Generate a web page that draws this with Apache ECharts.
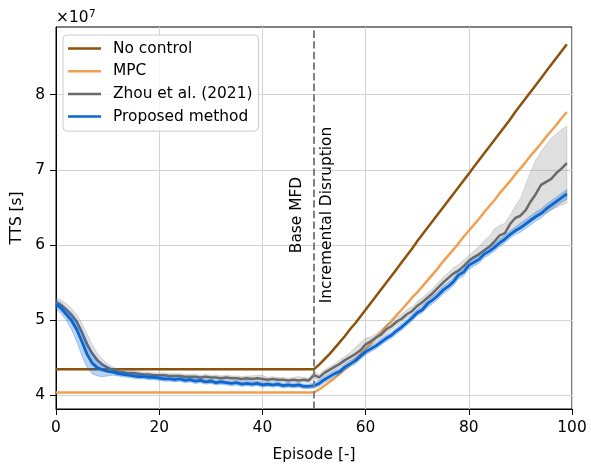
<!DOCTYPE html>
<html><head><meta charset="utf-8">
<script src="https://cdn.jsdelivr.net/npm/echarts@6/dist/echarts.min.js"></script>
<style>html,body{margin:0;padding:0;background:#fff}#c{width:591px;height:469px}</style>
</head><body><div id="c"></div>
<script>
// Values are in units of 1e7 seconds (axis shows "×10^7")
const EPISODES = Array.from({length: 100}, (_, i) => i);
const X_TICK_STEP = 20;
const Y_TICKS = [4, 5, 6, 7, 8];
const DISRUPTION_EPISODE = 50;
const SERIES_NAMES = ['No control', 'MPC', 'Zhou et al. (2021)', 'Proposed method'];

const NO_CONTROL = [
  4.35,4.35,4.35,4.35,4.35,4.35,4.35,4.35,4.35,4.35,
  4.35,4.35,4.35,4.35,4.35,4.35,4.35,4.35,4.35,4.35,
  4.35,4.35,4.35,4.35,4.35,4.35,4.35,4.35,4.35,4.35,
  4.35,4.35,4.35,4.35,4.35,4.35,4.35,4.35,4.35,4.35,
  4.35,4.35,4.35,4.35,4.35,4.35,4.35,4.35,4.35,4.35,
  4.35,4.41,4.48,4.55,4.63,4.71,4.79,4.88,4.96,5.05,
  5.14,5.23,5.32,5.41,5.50,5.59,5.68,5.77,5.86,5.95,
  6.05,6.14,6.23,6.32,6.41,6.50,6.59,6.68,6.77,6.86,
  6.95,7.04,7.13,7.22,7.31,7.40,7.49,7.58,7.67,7.77,
  7.86,7.95,8.04,8.13,8.22,8.31,8.40,8.49,8.58,8.67
];
const MPC = [
  4.04,4.04,4.04,4.04,4.04,4.04,4.04,4.04,4.04,4.04,
  4.04,4.04,4.04,4.04,4.04,4.04,4.04,4.04,4.04,4.04,
  4.04,4.04,4.04,4.04,4.04,4.04,4.04,4.04,4.04,4.04,
  4.04,4.04,4.04,4.04,4.04,4.04,4.04,4.04,4.04,4.04,
  4.04,4.04,4.04,4.04,4.04,4.04,4.04,4.04,4.04,4.04,
  4.04,4.08,4.13,4.18,4.23,4.29,4.35,4.41,4.48,4.55,
  4.62,4.69,4.77,4.84,4.92,4.99,5.07,5.14,5.22,5.30,
  5.37,5.45,5.53,5.61,5.69,5.78,5.86,5.94,6.02,6.11,
  6.19,6.27,6.35,6.44,6.52,6.60,6.69,6.77,6.85,6.94,
  7.02,7.10,7.19,7.27,7.35,7.44,7.52,7.60,7.69,7.77
];
const ZHOU_MEAN = [
  5.24,5.20,5.14,5.07,4.98,4.84,4.68,4.56,4.47,4.41,
  4.37,4.34,4.32,4.31,4.30,4.30,4.29,4.28,4.28,4.27,
  4.27,4.27,4.26,4.26,4.26,4.25,4.25,4.25,4.24,4.25,
  4.24,4.24,4.23,4.24,4.23,4.23,4.22,4.23,4.22,4.23,
  4.22,4.21,4.22,4.21,4.21,4.20,4.21,4.20,4.21,4.20,
  4.27,4.24,4.30,4.34,4.38,4.42,4.47,4.51,4.55,4.60,
  4.68,4.72,4.77,4.81,4.88,4.92,4.98,5.02,5.08,5.12,
  5.19,5.24,5.30,5.36,5.43,5.50,5.56,5.62,5.66,5.72,
  5.79,5.84,5.88,5.93,5.98,6.05,6.13,6.16,6.28,6.36,
  6.39,6.46,6.58,6.68,6.80,6.84,6.88,6.96,7.02,7.09
];
const ZHOU_LOWER = [
  5.18,5.13,5.05,4.96,4.85,4.70,4.56,4.45,4.39,4.35,
  4.33,4.31,4.29,4.28,4.27,4.27,4.26,4.25,4.25,4.24,
  4.24,4.24,4.23,4.23,4.23,4.22,4.22,4.22,4.21,4.22,
  4.21,4.21,4.20,4.21,4.20,4.20,4.19,4.20,4.19,4.19,
  4.18,4.18,4.19,4.18,4.18,4.17,4.18,4.17,4.18,4.17,
  4.22,4.20,4.26,4.30,4.34,4.38,4.43,4.46,4.50,4.55,
  4.62,4.67,4.72,4.76,4.82,4.87,4.93,4.97,5.03,5.07,
  5.14,5.19,5.25,5.31,5.37,5.44,5.50,5.56,5.60,5.66,
  5.74,5.79,5.82,5.87,5.91,5.96,6.02,6.05,6.12,6.19,
  6.22,6.27,6.31,6.36,6.40,6.43,6.47,6.50,6.53,6.56
];
const ZHOU_UPPER = [
  5.30,5.27,5.22,5.16,5.08,4.96,4.82,4.68,4.56,4.48,
  4.42,4.38,4.35,4.34,4.33,4.33,4.32,4.31,4.31,4.30,
  4.30,4.30,4.29,4.29,4.29,4.28,4.28,4.28,4.27,4.28,
  4.27,4.27,4.26,4.27,4.26,4.26,4.25,4.26,4.26,4.27,
  4.27,4.24,4.25,4.24,4.24,4.23,4.24,4.25,4.24,4.23,
  4.32,4.28,4.34,4.38,4.42,4.47,4.52,4.57,4.64,4.70,
  4.76,4.78,4.82,4.87,4.94,4.98,5.04,5.08,5.14,5.18,
  5.25,5.30,5.36,5.42,5.50,5.57,5.63,5.70,5.74,5.80,
  5.86,5.92,5.98,6.06,6.12,6.22,6.26,6.29,6.40,6.52,
  6.62,6.80,6.98,7.13,7.24,7.34,7.42,7.48,7.54,7.58
];
const PROPOSED_MEAN = [
  5.21,5.16,5.08,5.00,4.88,4.72,4.55,4.43,4.37,4.34,
  4.32,4.31,4.29,4.28,4.27,4.26,4.25,4.25,4.24,4.24,
  4.23,4.22,4.22,4.21,4.22,4.20,4.21,4.19,4.20,4.18,
  4.19,4.17,4.18,4.17,4.16,4.17,4.15,4.16,4.15,4.16,
  4.14,4.15,4.14,4.15,4.13,4.14,4.13,4.14,4.12,4.12,
  4.13,4.16,4.21,4.25,4.29,4.32,4.38,4.42,4.46,4.52,
  4.58,4.62,4.66,4.71,4.76,4.80,4.86,4.91,4.97,5.03,
  5.10,5.14,5.22,5.27,5.33,5.40,5.45,5.51,5.60,5.64,
  5.73,5.77,5.81,5.88,5.92,5.97,6.03,6.08,6.14,6.19,
  6.23,6.28,6.33,6.38,6.42,6.48,6.53,6.58,6.63,6.68
];
const PROPOSED_LOWER = [
  5.15,5.09,5.00,4.88,4.72,4.53,4.38,4.29,4.26,4.25,
  4.26,4.27,4.26,4.25,4.24,4.23,4.22,4.22,4.21,4.21,
  4.20,4.19,4.19,4.18,4.19,4.17,4.18,4.16,4.17,4.15,
  4.16,4.14,4.15,4.14,4.13,4.14,4.12,4.13,4.12,4.13,
  4.11,4.12,4.11,4.12,4.10,4.11,4.10,4.11,4.09,4.09,
  4.10,4.12,4.17,4.21,4.25,4.28,4.34,4.38,4.42,4.48,
  4.54,4.58,4.62,4.67,4.72,4.76,4.82,4.87,4.93,4.99,
  5.06,5.10,5.17,5.22,5.28,5.35,5.40,5.46,5.55,5.59,
  5.68,5.72,5.76,5.83,5.87,5.92,5.98,6.03,6.09,6.14,
  6.17,6.22,6.27,6.32,6.36,6.42,6.47,6.52,6.57,6.61
];
const PROPOSED_UPPER = [
  5.27,5.23,5.16,5.10,5.01,4.88,4.72,4.58,4.48,4.42,
  4.38,4.35,4.33,4.31,4.30,4.29,4.28,4.28,4.27,4.27,
  4.26,4.25,4.25,4.24,4.25,4.23,4.24,4.23,4.23,4.21,
  4.22,4.20,4.21,4.20,4.19,4.20,4.18,4.20,4.18,4.19,
  4.17,4.18,4.17,4.18,4.16,4.17,4.16,4.17,4.15,4.15,
  4.17,4.20,4.25,4.29,4.33,4.36,4.42,4.46,4.50,4.56,
  4.62,4.66,4.70,4.75,4.80,4.84,4.90,4.95,5.01,5.07,
  5.14,5.19,5.26,5.32,5.38,5.45,5.50,5.56,5.65,5.69,
  5.78,5.82,5.86,5.93,5.97,6.02,6.08,6.13,6.19,6.24,
  6.29,6.34,6.39,6.44,6.48,6.54,6.59,6.64,6.69,6.74
];

const FONT = 'DejaVu Sans';
const FS = 15.4;
const C_BROWN = '#8c510a', C_ORANGE = '#f0a050', C_GRAY = '#6b6b6b', C_BLUE = '#0b66d0';
const BAND_GRAY = 'rgba(128,128,128,0.25)', BAND_BLUE = 'rgba(20,110,215,0.3)';

function pairs(arr) { return arr.map((v, i) => [EPISODES[i], v]); }

// Band drawn as one polygon through the axis scales (api.coord)
function bandSeries(name, upper, lower, fill, z) {
  return {
    type: 'custom', name: name, silent: true, animation: false, z: z,
    clip: true,
    data: pairs(upper),
    encode: {x: 0, y: 1},
    renderItem: function (params, api) {
      if (params.dataIndex !== 0) return null;
      const pts = [];
      for (let i = 0; i < upper.length; i++) pts.push(api.coord([EPISODES[i], upper[i]]));
      for (let i = lower.length - 1; i >= 0; i--) pts.push(api.coord([EPISODES[i], lower[i]]));
      return {type: 'polygon', shape: {points: pts},
              style: {fill: fill, stroke: fill, lineWidth: 1}};
    }
  };
}

const chart = echarts.init(document.getElementById('c'), null, {renderer: 'canvas'});
const lineBase = {type: 'line', symbol: 'none', showSymbol: false, animation: false, silent: true};

chart.setOption({
  animation: false,
  backgroundColor: '#fff',
  grid: {left: 56, right: 19, top: 27, bottom: 60, show: true, borderColor: '#000', borderWidth: 1,
         backgroundColor: 'transparent', containLabel: false, outerBoundsMode: 'none'},
  legend: {
    data: SERIES_NAMES, orient: 'vertical', left: 63, top: 35,
    icon: 'rect', itemWidth: 33, itemHeight: 2.5, itemGap: 5.7,
    padding: [5, 6, 6, 5],
    backgroundColor: 'rgba(255,255,255,0.8)', borderColor: '#cccccc', borderWidth: 1, borderRadius: 4,
    textStyle: {fontFamily: FONT, fontSize: FS, color: '#000', lineHeight: 17, padding: [0, 0, 0, 7]},
    selectedMode: false
  },
  xAxis: {
    type: 'value', min: 0, max: 100, interval: X_TICK_STEP,
    name: 'Episode [-]', nameLocation: 'middle', nameGap: 38,
    nameTextStyle: {fontFamily: FONT, fontSize: FS, color: '#000'},
    axisLine: {show: true, onZero: false, lineStyle: {color: '#000', width: 1}},
    axisTick: {show: true, length: 6, lineStyle: {color: '#000', width: 1}},
    axisLabel: {fontFamily: FONT, fontSize: FS, color: '#000', margin: 11.5},
    splitLine: {show: true, lineStyle: {color: '#d3d3d3', width: 1}}
  },
  yAxis: {
    type: 'value', min: 3.82, max: 8.9,
    name: 'TTS [s]', nameLocation: 'middle', nameGap: 30, nameRotate: 90,
    nameTextStyle: {fontFamily: FONT, fontSize: FS, color: '#000'},
    axisLine: {show: true, onZero: false, lineStyle: {color: '#000', width: 1}},
    axisTick: {show: true, length: 6, customValues: Y_TICKS, lineStyle: {color: '#000', width: 1}},
    axisLabel: {fontFamily: FONT, fontSize: FS, color: '#000', margin: 11, customValues: Y_TICKS},
    splitLine: {show: true, lineStyle: {color: '#d3d3d3', width: 1}}
  },
  series: [
    Object.assign({}, lineBase, {name: SERIES_NAMES[0], data: pairs(NO_CONTROL), z: 2,
      lineStyle: {color: C_BROWN, width: 2.5}, itemStyle: {color: C_BROWN}}),
    Object.assign({}, lineBase, {name: SERIES_NAMES[1], data: pairs(MPC), z: 2,
      lineStyle: {color: C_ORANGE, width: 2.5}, itemStyle: {color: C_ORANGE}}),
    bandSeries('zhou_band', ZHOU_UPPER, ZHOU_LOWER, BAND_GRAY, 3),
    Object.assign({}, lineBase, {name: SERIES_NAMES[2], data: pairs(ZHOU_MEAN), z: 4,
      lineStyle: {color: C_GRAY, width: 2.5}, itemStyle: {color: C_GRAY}}),
    bandSeries('prop_band', PROPOSED_UPPER, PROPOSED_LOWER, BAND_BLUE, 5),
    Object.assign({}, lineBase, {name: SERIES_NAMES[3], data: pairs(PROPOSED_MEAN), z: 6,
      lineStyle: {color: C_BLUE, width: 2.8}, itemStyle: {color: C_BLUE},
      markLine: {silent: true, symbol: ['none', 'none'], animation: false, z: 10,
        label: {show: false},
        lineStyle: {color: '#808080', width: 2, type: [7.4, 3.2]},
        data: [{xAxis: DISRUPTION_EPISODE}]}})
  ]
});

const anchor = chart.convertToPixel({gridIndex: 0}, [DISRUPTION_EPISODE, 6.4]);
chart.setOption({
  graphic: [
    {type: 'text', x: anchor[0] - 17.5, y: anchor[1], rotation: Math.PI / 2, z: 100,
     style: {text: 'Base MFD', font: FS + 'px "' + FONT + '"', fill: '#000', align: 'center', verticalAlign: 'middle'}},
    {type: 'text', x: anchor[0] + 12.5, y: anchor[1], rotation: Math.PI / 2, z: 100,
     style: {text: 'Incremental Disruption', font: FS + 'px "' + FONT + '"', fill: '#000', align: 'center', verticalAlign: 'middle'}},
    {type: 'text', x: 56, y: 17.5, z: 100,
     style: {text: '×10', font: FS + 'px "' + FONT + '"', fill: '#000', align: 'left', verticalAlign: 'middle'}},
    {type: 'text', x: 89, y: 8.5, z: 100,
     style: {text: '7', font: '10.5px "' + FONT + '"', fill: '#000', align: 'left', verticalAlign: 'top'}}
  ]
});
</script></body></html>
